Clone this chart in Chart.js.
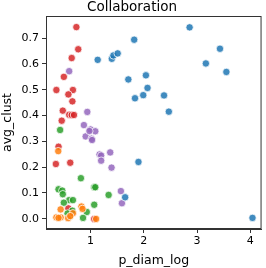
<!DOCTYPE html>
<html>
<head>
<meta charset="utf-8">
<script src="https://cdn.jsdelivr.net/npm/chart.js@4"></script>
<style>
  html, body { margin: 0; padding: 0; background: #fff; }
  #wrap { width: 266px; height: 268px; }
</style>
</head>
<body>
<div id="wrap"><canvas id="collabChart" width="266" height="268"></canvas></div>
<script>
// cluster 0 (blue)
var blueX = [1.135, 1.40, 1.43, 1.51, 1.82, 2.86, 3.43, 3.165, 3.55, 1.71, 2.04, 2.07, 1.99, 1.835, 2.38, 2.47, 1.90, 1.65, 4.04];
var blueY = [0.616, 0.620, 0.633, 0.641, 0.694, 0.742, 0.659, 0.602, 0.569, 0.540, 0.556, 0.507, 0.479, 0.467, 0.478, 0.415, 0.220, 0.083, 0.003];
// cluster 1 (orange)
var orangeX = [0.44, 0.83, 0.85, 0.36, 0.44, 0.58, 0.67, 1.105, 0.395, 0.40, 0.62];
var orangeY = [0.036, 0.047, 0.038, 0.005, 0.005, 0.002, 0.021, -0.001, 0.262, 0.003, 0.010];
// cluster 2 (green)
var greenX = [0.43, 0.82, 0.40, 0.47, 0.48, 1.07, 1.09, 1.34, 1.07, 0.93, 0.86, 0.60, 0.67, 0.50, 0.66, 0.61, 0.57];
var greenY = [0.344, 0.157, 0.114, 0.109, 0.095, 0.122, 0.122, 0.092, 0.054, 0.026, 0.003, 0.072, 0.072, 0.062, 0.031, 0.008, 0.020];
// cluster 3 (red)
var redX = [0.735, 0.77, 0.647, 0.50, 0.36, 0.67, 0.585, 0.66, 0.48, 0.60, 0.647, 0.69, 0.46, 0.40, 0.35, 0.62, 0.585, 1.07];
var redY = [0.743, 0.657, 0.623, 0.550, 0.499, 0.499, 0.482, 0.455, 0.419, 0.403, 0.402, 0.402, 0.380, 0.279, 0.212, 0.217, 0.040, -0.001];
// cluster 4 (purple)
var purpleX = [0.60, 0.94, 0.876, 1.00, 1.09, 0.91, 1.02, 1.03, 1.17, 1.20, 1.37, 1.20, 1.395, 1.57, 1.59, 0.98];
var purpleY = [0.572, 0.414, 0.363, 0.346, 0.339, 0.319, 0.310, 0.305, 0.249, 0.245, 0.257, 0.225, 0.198, 0.107, 0.060, 0.340];

var xTicks = [1, 2, 3, 4];
var yTicks = [0.0, 0.1, 0.2, 0.3, 0.4, 0.5, 0.6, 0.7];

function toPoints(xs, ys) {
    return xs.map(function (x, i) {
        return { x: x, y: ys[i] };
    });
}

function series(xs, ys, color) {
    return {
        data: toPoints(xs, ys),
        backgroundColor: color,
        borderColor: '#ffffff',
        borderWidth: 0.75,
        pointRadius: 3.7,
        pointHoverRadius: 3.7
    };
}

// full box around the plot area, like matplotlib spines
var boxPlugin = {
    id: 'box',
    afterDraw: function (chart) {
        var a = chart.chartArea;
        var c = chart.ctx;
        c.save();
        c.strokeStyle = '#333333';
        c.lineWidth = 1;
        c.strokeRect(a.left + 0.5, a.top + 0.5, a.right - a.left - 1, a.bottom - a.top - 1);
        c.restore();
    }
};

var tickFont = { family: 'DejaVu Sans', size: 11 };
var labelFont = { family: 'DejaVu Sans', size: 12.5 };

var ctx = document.getElementById('collabChart').getContext('2d');
var collabChart = new Chart(ctx, {
    type: 'scatter',
    data: {
        datasets: [
            series(blueX, blueY, 'rgba(31,119,180,0.85)'),
            series(orangeX, orangeY, 'rgba(255,127,14,0.85)'),
            series(greenX, greenY, 'rgba(44,160,44,0.85)'),
            series(redX, redY, 'rgba(214,39,40,0.85)'),
            series(purpleX, purpleY, 'rgba(148,103,189,0.85)')
        ]
    },
    options: {
        responsive: false,
        animation: false,
        layout: { padding: { left: 0, right: 2, top: 0, bottom: 0 } },
        plugins: {
            legend: { display: false },
            tooltip: { enabled: false },
            title: {
                display: true,
                text: 'Collaboration',
                color: '#000',
                font: { family: 'DejaVu Sans', size: 13.5, weight: 'normal', lineHeight: 1.0 },
                padding: { top: 1, bottom: 1.5 }
            }
        },
        scales: {
            x: {
                type: 'linear',
                min: 0.165,
                max: 4.21,
                afterBuildTicks: function (scale) {
                    scale.ticks = xTicks.map(function (v) { return { value: v }; });
                },
                afterFit: function (scale) { scale.height = 39; },
                ticks: { color: '#000', font: tickFont, padding: 2, maxRotation: 0,
                    callback: function (v) { return String(v); } },
                grid: { display: true, drawOnChartArea: false, drawTicks: true, tickLength: 4, color: '#333' },
                border: { display: true, color: '#333' },
                title: { display: true, text: 'p_diam_log', color: '#000', font: labelFont, padding: { top: 1, bottom: 0 } }
            },
            y: {
                type: 'linear',
                min: -0.040,
                max: 0.786,
                afterBuildTicks: function (scale) {
                    scale.ticks = yTicks.map(function (v) { return { value: v }; });
                },
                afterFit: function (scale) { scale.width = 46; },
                ticks: { color: '#000', font: tickFont, padding: 3,
                    callback: function (v) { return v.toFixed(1); } },
                grid: { display: true, drawOnChartArea: false, drawTicks: true, tickLength: 4, color: '#333' },
                border: { display: true, color: '#333' },
                title: { display: true, text: 'avg_clust', color: '#000', font: labelFont, padding: { top: 0, bottom: 2 } }
            }
        }
    },
    plugins: [boxPlugin]
});
</script>
</body>
</html>
